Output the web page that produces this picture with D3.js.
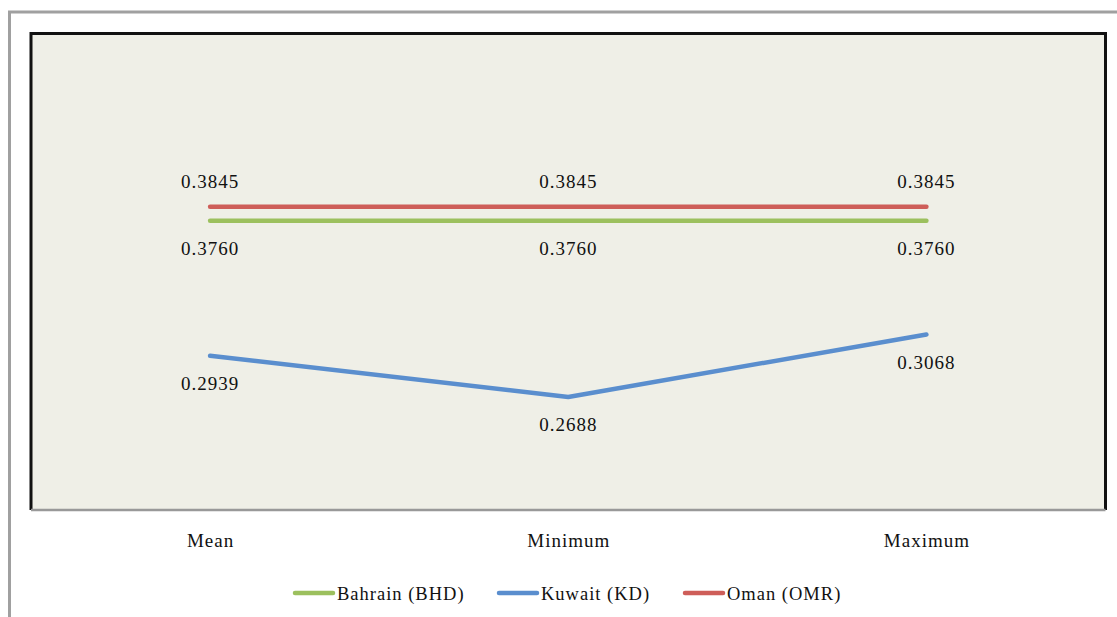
<!DOCTYPE html>
<html>
<head>
<meta charset="utf-8">
<script src="https://cdn.jsdelivr.net/npm/d3@7"></script>
<style>
  html, body { margin: 0; padding: 0; background: #ffffff; }
  svg { display: block; }
  text { font-family: "Liberation Serif", "Times New Roman", serif; fill: #111; }
</style>
</head>
<body>
<svg id="chart" width="1117" height="617"></svg>
<script>
// Exchange rate statistics (per US dollar)
const categories = ["Mean", "Minimum", "Maximum"];
const seriesNames = ["Bahrain (BHD)", "Kuwait (KD)", "Oman (OMR)"];
const bahrain = [0.3760, 0.3760, 0.3760];
const kuwait = [0.2939, 0.2688, 0.3068];
const oman = [0.3845, 0.3845, 0.3845];
const seriesColors = ["#9CC05E", "#5A8ECE", "#CE5E59"];
// label placement: above or below the line
const labelSide = ["below", "below", "above"];

const series = [bahrain, kuwait, oman].map((values, i) => ({
  name: seriesNames[i],
  color: seriesColors[i],
  side: labelSide[i],
  values: values.map((v, j) => ({ cat: categories[j], v }))
}));

const svg = d3.select("#chart");
const plot = { left: 31, top: 33.5, right: 1105.5, bottom: 510 };

// outer frame
svg.append("rect")
  .attr("x", 9.5).attr("y", 12).attr("width", 1130).attr("height", 640)
  .attr("fill", "none").attr("stroke", "#a0a0a0").attr("stroke-width", 3);

// plot area
svg.append("rect")
  .attr("x", plot.left).attr("y", plot.top)
  .attr("width", plot.right - plot.left).attr("height", plot.bottom - plot.top)
  .attr("fill", "#EFEFE7");

svg.append("path")
  .attr("d", `M${plot.left},${plot.bottom}V${plot.top}H${plot.right}V${plot.bottom}`)
  .attr("fill", "none").attr("stroke", "#111").attr("stroke-width", 3);

const x = d3.scalePoint().domain(categories)
  .range([plot.left, plot.right]).padding(0.5);
const y = d3.scaleLinear().domain([0.2, 0.49]).range([plot.bottom, plot.top]);

// category axis
const xAxis = svg.append("g")
  .attr("transform", `translate(0,${plot.bottom})`)
  .call(d3.axisBottom(x).tickSize(0).tickPadding(24));
xAxis.select(".domain").attr("stroke", "#999").attr("stroke-width", 2.5)
  .attr("d", `M${plot.left},0H${plot.right}`);
xAxis.selectAll(".tick text")
  .attr("font-size", 19).attr("letter-spacing", 1)
  .style("font-family", "'Liberation Serif', serif").attr("fill", "#111");

const line = d3.line().x(d => x(d.cat)).y(d => y(d.v));

series.forEach(s => {
  svg.append("path")
    .datum(s.values)
    .attr("d", line)
    .attr("fill", "none")
    .attr("stroke", s.color)
    .attr("stroke-width", 4.5)
    .attr("stroke-linecap", "round")
    .attr("stroke-linejoin", "round");

  svg.selectAll(null)
    .data(s.values)
    .enter().append("text")
    .attr("x", d => x(d.cat))
    .attr("y", d => y(d.v) + (s.side === "above" ? -19 : 34))
    .attr("text-anchor", "middle")
    .attr("font-size", 19)
    .attr("letter-spacing", 1)
    .text(d => d.v.toFixed(4));
});

// legend
const legendItems = [
  { name: seriesNames[0], color: seriesColors[0], x: 293 },
  { name: seriesNames[1], color: seriesColors[1], x: 497 },
  { name: seriesNames[2], color: seriesColors[2], x: 683 }
];
const lg = svg.append("g").attr("transform", "translate(0,593)");
legendItems.forEach(it => {
  lg.append("line")
    .attr("x1", it.x + 2).attr("x2", it.x + 40)
    .attr("y1", 0).attr("y2", 0)
    .attr("stroke", it.color).attr("stroke-width", 4.5)
    .attr("stroke-linecap", "round");
  lg.append("text")
    .attr("x", it.x + 44).attr("y", 6.5)
    .attr("font-size", 18.5).attr("letter-spacing", 1)
    .text(it.name);
});
</script>
</body>
</html>
